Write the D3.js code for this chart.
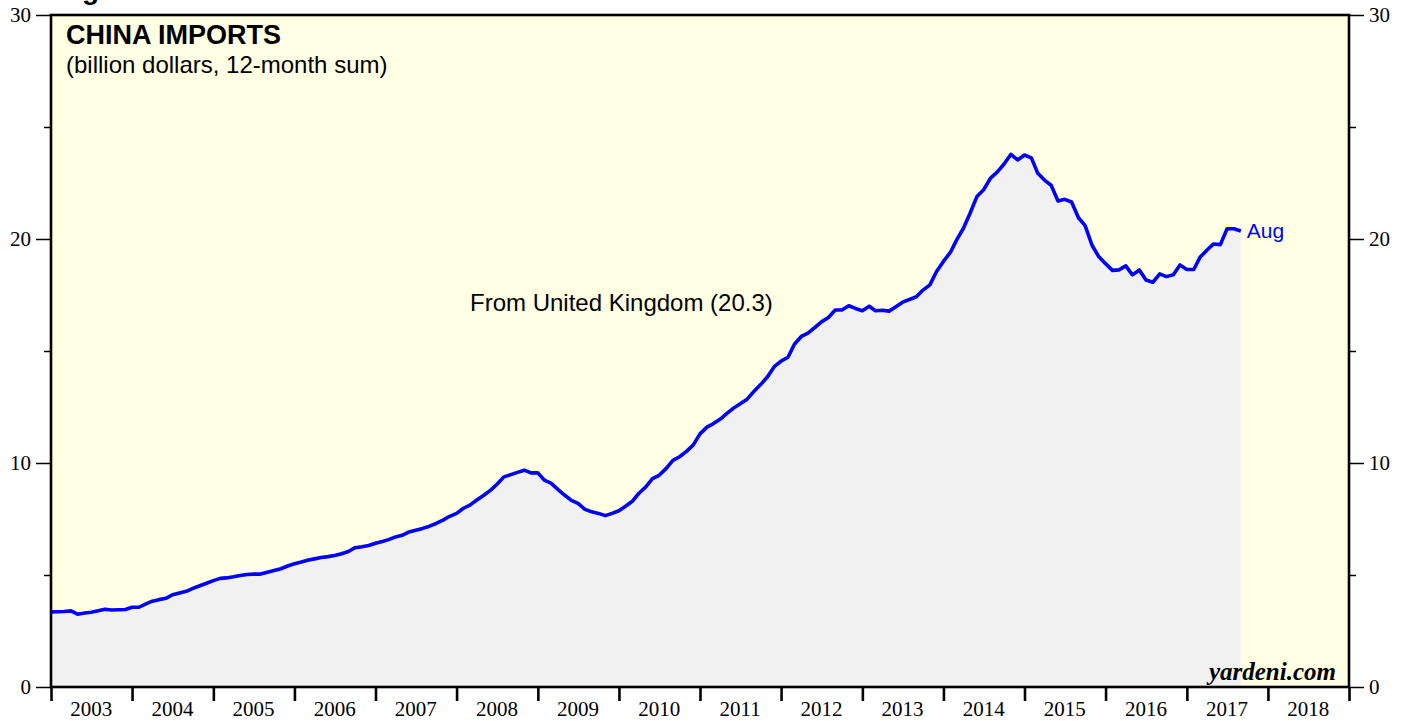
<!DOCTYPE html>
<html>
<head>
<meta charset="utf-8">
<script src="https://cdn.jsdelivr.net/npm/d3@7"></script>
<style>
  html, body { margin: 0; padding: 0; background: #ffffff; }
  svg { display: block; }
</style>
</head>
<body>
<svg id="chart" width="1407" height="721"></svg>
<script>
// ---- Data (month-end values, Dec 2002 .. Aug 2017), billion dollars, 12-month sum
const startYear = 2002, startMonth = 11; // December 2002 (0-based month)
const importsUK = [
  3.35, 3.36, 3.37, 3.40, 3.25, 3.30, 3.34, 3.40, 3.47, 3.44, 3.45, 3.46,
  3.56, 3.56, 3.70, 3.83, 3.90, 3.96, 4.12, 4.20, 4.27, 4.40, 4.52, 4.63,
  4.75, 4.85, 4.87, 4.92, 4.98, 5.02, 5.04, 5.04, 5.12, 5.20, 5.28, 5.40,
  5.50, 5.58, 5.66, 5.72, 5.78, 5.82, 5.87, 5.95, 6.05, 6.22, 6.26, 6.32,
  6.42, 6.50, 6.58, 6.70, 6.77, 6.92, 7.00, 7.08, 7.18, 7.30, 7.45, 7.62,
  7.75, 7.98, 8.12, 8.35, 8.55, 8.78, 9.05, 9.38, 9.48, 9.58, 9.68, 9.56,
  9.56, 9.22, 9.10, 8.82, 8.57, 8.33, 8.20, 7.93, 7.82, 7.75, 7.65, 7.75,
  7.87, 8.08, 8.28, 8.65, 8.92, 9.30, 9.45, 9.75, 10.12, 10.28, 10.52, 10.80,
  11.30, 11.60, 11.75, 11.95, 12.20, 12.45, 12.65, 12.85, 13.20, 13.50, 13.85, 14.30,
  14.55, 14.72, 15.30, 15.65, 15.80, 16.05, 16.30, 16.50, 16.83, 16.83, 17.02, 16.90,
  16.80, 17.00, 16.80, 16.82, 16.78, 16.98, 17.18, 17.30, 17.42, 17.72, 17.95, 18.55,
  19.00, 19.40, 19.95, 20.48, 21.15, 21.90, 22.20, 22.72, 23.00, 23.35, 23.78, 23.53,
  23.75, 23.62, 22.95, 22.63, 22.40, 21.70, 21.77, 21.65, 20.95, 20.60, 19.72, 19.22,
  18.90, 18.60, 18.62, 18.80, 18.40, 18.62, 18.17, 18.07, 18.44, 18.32, 18.40, 18.84,
  18.64, 18.64, 19.18, 19.50, 19.78, 19.75, 20.46, 20.46, 20.36
];
const yearLabels = ["2003","2004","2005","2006","2007","2008","2009","2010","2011","2012","2013","2014","2015","2016","2017","2018"];
const yMajorTicks = [0, 10, 20, 30];
const yMinorTicks = [5, 15, 25];
const titleText = "CHINA IMPORTS";
const subtitleText = "(billion dollars, 12-month sum)";
const seriesLabel = "From United Kingdom (20.3)";
const lastLabel = "Aug";
const sourceText = "yardeni.com";

// ---- Layout
const svg = d3.select("#chart");
const L = 51, R = 1349, T = 15, B = 687;

const x = d3.scaleTime()
  .domain([new Date(2003, 0, 1), new Date(2019, 0, 1)])
  .range([L, R]);
const y = d3.scaleLinear().domain([0, 30]).range([B, T]);

const data = importsUK.map((v, i) => ({
  date: new Date(startYear, startMonth + i + 1, 1), // month-end
  value: v
}));

// plot background
svg.append("rect").attr("x", L).attr("y", T).attr("width", R - L).attr("height", B - T)
  .attr("fill", "#ffffe3");

// clip
svg.append("clipPath").attr("id", "clip").append("rect")
  .attr("x", L).attr("y", T).attr("width", R - L).attr("height", B - T);

// area
const area = d3.area().x(d => x(d.date)).y0(y(0)).y1(d => y(d.value));
svg.append("path").datum(data).attr("clip-path", "url(#clip)")
  .attr("d", area).attr("fill", "#f1f1f1");

// line
const line = d3.line().x(d => x(d.date)).y(d => y(d.value));
svg.append("path").datum(data).attr("clip-path", "url(#clip)")
  .attr("d", line).attr("fill", "none").attr("stroke", "#0000ff")
  .attr("stroke-width", 3.6).attr("stroke-linejoin", "round");

// frame
svg.append("rect").attr("x", L).attr("y", T).attr("width", R - L).attr("height", B - T)
  .attr("fill", "none").attr("stroke", "#000").attr("stroke-width", 2.6);

const serif = "'Liberation Serif', 'Times New Roman', serif";
const sans = "'Liberation Sans', Arial, Helvetica, sans-serif";

// left axis
const leftAxis = d3.axisLeft(y).tickValues(yMajorTicks).tickSize(15).tickPadding(5).tickFormat(d3.format("d"));
const gl = svg.append("g").attr("transform", `translate(${L},0)`).call(leftAxis);
gl.select(".domain").remove();
gl.selectAll("line").attr("stroke", "#000").attr("stroke-width", 1.5);
gl.selectAll("text").attr("font-family", serif).attr("font-size", 21).attr("fill", "#000").attr("dy", "0.33em");
const glm = svg.append("g").attr("transform", `translate(${L},0)`)
  .call(d3.axisLeft(y).tickValues(yMinorTicks).tickSize(7).tickFormat(""));
glm.select(".domain").remove();
glm.selectAll("line").attr("stroke", "#000").attr("stroke-width", 1.5);

// right axis
const rightAxis = d3.axisRight(y).tickValues(yMajorTicks).tickSize(15).tickPadding(5).tickFormat(d3.format("d"));
const gr = svg.append("g").attr("transform", `translate(${R},0)`).call(rightAxis);
gr.select(".domain").remove();
gr.selectAll("line").attr("stroke", "#000").attr("stroke-width", 1.5);
gr.selectAll("text").attr("font-family", serif).attr("font-size", 21).attr("fill", "#000").attr("dy", "0.33em");
const grm = svg.append("g").attr("transform", `translate(${R},0)`)
  .call(d3.axisRight(y).tickValues(yMinorTicks).tickSize(7).tickFormat(""));
grm.select(".domain").remove();
grm.selectAll("line").attr("stroke", "#000").attr("stroke-width", 1.5);

// bottom axis: year boundary ticks + centered labels
const yearStarts = yearLabels.map(s => new Date(+s, 0, 1)).concat([new Date(2019, 0, 1)]);
const gb = svg.append("g").attr("transform", `translate(0,${B})`)
  .call(d3.axisBottom(x).tickValues(yearStarts).tickSize(14).tickFormat(""));
gb.select(".domain").remove();
gb.selectAll("line").attr("stroke", "#000").attr("stroke-width", 2.6);
svg.append("g").selectAll("text").data(yearLabels).join("text")
  .attr("x", d => x(new Date(+d, 6, 1)))
  .attr("y", 716)
  .attr("text-anchor", "middle")
  .attr("font-family", serif).attr("font-size", 21).attr("fill", "#000")
  .text(d => d);

// cut-off figure heading at top
svg.append("text").attr("x", 57).attr("y", -1)
  .attr("font-family", sans).attr("font-weight", "bold").attr("font-size", 28)
  .text("Fig");

// titles
svg.append("text").attr("x", 66).attr("y", 44)
  .attr("font-family", sans).attr("font-weight", "bold").attr("font-size", 27).attr("fill", "#000")
  .text(titleText);
svg.append("text").attr("x", 66).attr("y", 73)
  .attr("font-family", sans).attr("font-size", 24).attr("fill", "#000")
  .text(subtitleText);

svg.append("text").attr("x", 470).attr("y", 311)
  .attr("font-family", sans).attr("font-size", 24).attr("fill", "#000")
  .text(seriesLabel);

const last = data[data.length - 1];
svg.append("text").attr("x", x(last.date) + 6).attr("y", y(last.value) + 7)
  .attr("font-family", sans).attr("font-size", 21).attr("fill", "#0000ff")
  .text(lastLabel);

svg.append("text").attr("x", 1336).attr("y", 680)
  .attr("text-anchor", "end")
  .attr("font-family", serif).attr("font-weight", "bold").attr("font-style", "italic")
  .attr("font-size", 25).attr("fill", "#000")
  .text(sourceText);
</script>
</body>
</html>
